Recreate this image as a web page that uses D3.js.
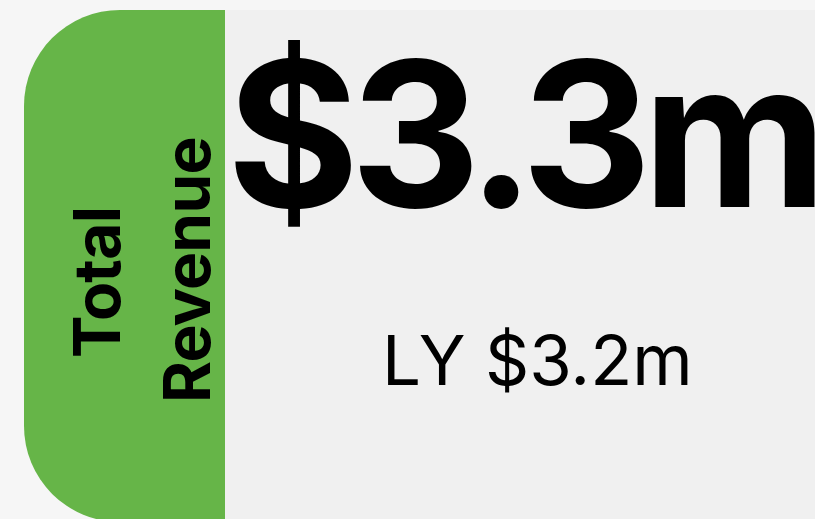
<!DOCTYPE html>
<html>
<head>
<meta charset="utf-8">
<script src="https://cdn.jsdelivr.net/npm/d3@7"></script>
<style>
  html, body { margin: 0; padding: 0; background: #f6f6f6; }
  svg { display: block; }
</style>
</head>
<body>
<svg id="chart" width="815" height="519"></svg>
<script>
// ---- data ----
const labelLines = ["Total", "Revenue"];
const currentValue = [3.3];
const lastYearValue = [3.2];
const valuePrefix = ["$"];
const valueSuffix = ["m"];
const lyPrefix = ["LY "];

const W = 815, H = 519;
const svg = d3.select("#chart");
const fmt = v => valuePrefix[0] + d3.format(".1f")(v) + valueSuffix[0];

// background
svg.append("rect").attr("x", 0).attr("y", 0).attr("width", W).attr("height", H).attr("fill", "#f6f6f6");

// gray value panel
svg.append("rect").attr("x", 225).attr("y", 10).attr("width", W - 225).attr("height", H).attr("fill", "#f0f0f0");

// green label panel with rounded left corners
const gx0 = 24, gx1 = 225, gy0 = 10, gy1 = 522, r = 96;
const p = d3.path();
p.moveTo(gx1, gy0);
p.lineTo(gx0 + r, gy0);
p.arcTo(gx0, gy0, gx0, gy0 + r, r);
p.lineTo(gx0, gy1 - r);
p.arcTo(gx0, gy1, gx0 + r, gy1, r);
p.lineTo(gx1, gy1);
p.closePath();
svg.append("path").attr("d", p.toString()).attr("fill", "#66b548");

// rotated label lines
const labelPos = [{x: 120, y: 358}, {x: 210, y: 403}];
svg.selectAll("text.lbl").data(labelLines).enter().append("text")
  .attr("class", "lbl")
  .attr("transform", (d, i) => `translate(${labelPos[i].x},${labelPos[i].y}) rotate(-90)`)
  .attr("font-family", "Inter, sans-serif")
  .attr("font-weight", 700)
  .attr("font-size", 64)
  .attr("letter-spacing", -0.8)
  .attr("fill", "#000")
  .text(d => d);

// main value
svg.append("text")
  .attr("x", 227).attr("y", 207)
  .attr("font-family", "Inter, sans-serif")
  .attr("font-weight", 650)
  .attr("font-size", 202)
  .attr("letter-spacing", -9)
  .attr("fill", "#000")
  .text(fmt(currentValue[0]));

// last year value
svg.append("text")
  .attr("x", 382).attr("y", 385)
  .attr("font-family", "Inter, sans-serif")
  .attr("font-weight", 400)
  .attr("font-size", 69)
  .attr("fill", "#000")
  .text(lyPrefix[0] + fmt(lastYearValue[0]));
</script>
</body>
</html>
